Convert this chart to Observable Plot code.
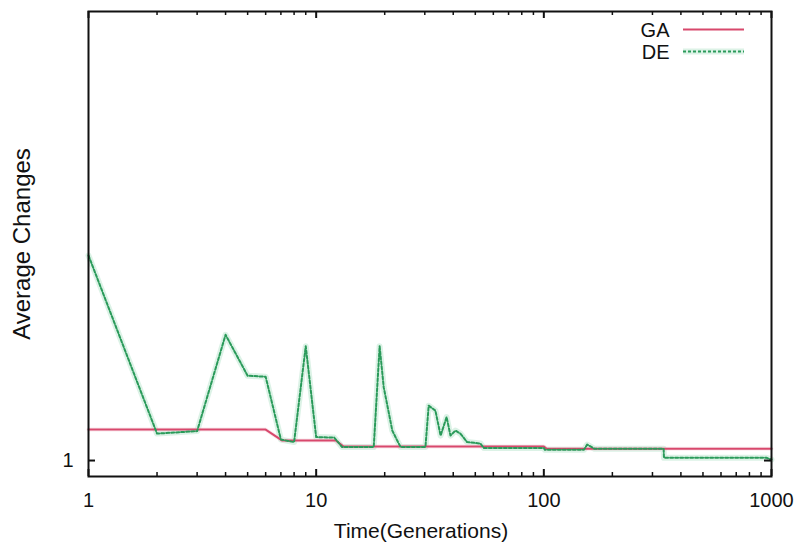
<!DOCTYPE html>
<html><head><meta charset="utf-8">
<script src="https://cdn.jsdelivr.net/npm/d3@7"></script>
<script src="https://cdn.jsdelivr.net/npm/@observablehq/plot@0.6"></script>
<style>body{margin:0;background:#fff}</style>
</head><body><div id="chart"></div>
<script>
// GA series (generation, average changes)
const gaX = [1, 6, 7.1, 12.2, 13.2, 100, 103, 1000];
const gaY = [1.062, 1.062, 1.040, 1.040, 1.028, 1.028, 1.0235, 1.0235];
// DE series
const deX = [1, 2, 3, 4, 5, 6, 7, 8, 9, 10, 12, 13, 17.9, 19, 19.8, 21.6, 22.7, 23.5, 30.2, 31.2, 33.4, 35.2, 37.4, 38.9, 40.9, 43, 46, 52.7, 54.5, 100, 101, 150, 155, 167, 336, 337, 950, 1000];
const deY = [1.411, 1.054, 1.059, 1.252, 1.170, 1.168, 1.042, 1.037, 1.229, 1.047, 1.046, 1.027, 1.027, 1.229, 1.147, 1.060, 1.040, 1.027, 1.027, 1.110, 1.100, 1.050, 1.087, 1.050, 1.060, 1.054, 1.037, 1.034, 1.025, 1.025, 1.0215, 1.0215, 1.032, 1.0235, 1.0235, 1.0055, 1.0055, 1.002];
// ticks
const xMajor = [1, 10, 100, 1000];
const xMinor = [2,3,4,5,6,7,8,9,20,30,40,50,60,70,80,90,200,300,400,500,600,700,800,900];
const yTicks = [1];
const seriesNames = ["GA", "DE"];
const xTitle = "Time(Generations)";
const yTitle = "Average Changes";

const ga = gaX.map((x, i) => ({x, y: gaY[i]}));
const de = deX.map((x, i) => ({x, y: deY[i]}));

const W = 800, H = 544, mL = 88, mR = 29, mT = 11, mB = 68;
const pw = W - mL - mR, ph = H - mT - mB;
const midY = (mT + H - mB) / 2;
const RED = "#d8486c", GREEN = "#2a9a5a";

const chart = Plot.plot({
  width: W, height: H,
  marginLeft: mL, marginRight: mR, marginTop: mT, marginBottom: mB,
  style: {fontFamily: "'Liberation Sans', Arial, Helvetica, sans-serif", fontSize: "20px", background: "#fff", color: "#111"},
  x: {type: "log", domain: [1, 1000], axis: null},
  y: {domain: [0.968, 1.9], axis: null},
  marks: [
    // halos
    Plot.line(de, {x: "x", y: "y", stroke: "#c4e9d6", strokeWidth: 6, strokeOpacity: 0.6}),
    Plot.line(ga, {x: "x", y: "y", stroke: "#f3c9d4", strokeWidth: 4, strokeOpacity: 0.4}),
    Plot.line(ga, {x: "x", y: "y", stroke: RED, strokeWidth: 2}),
    Plot.line(de, {x: "x", y: "y", stroke: GREEN, strokeWidth: 2, strokeDasharray: "3,2"}),
    Plot.frame({stroke: "#111", strokeWidth: 2}),
    // x ticks (bottom and mirrored top)
    Plot.tickX(xMajor, {x: d => d, insetTop: ph - 7, stroke: "#111", strokeWidth: 2}),
    Plot.tickX(xMajor, {x: d => d, insetBottom: ph - 7, stroke: "#111", strokeWidth: 2}),
    Plot.tickX(xMinor, {x: d => d, insetTop: ph - 4, stroke: "#111", strokeWidth: 1.5}),
    Plot.tickX(xMinor, {x: d => d, insetBottom: ph - 4, stroke: "#111", strokeWidth: 1.5}),
    // y ticks
    Plot.tickY(yTicks, {y: d => d, insetRight: pw - 7, stroke: "#111", strokeWidth: 2}),
    Plot.tickY(yTicks, {y: d => d, insetLeft: pw - 7, stroke: "#111", strokeWidth: 2}),
    // tick labels
    Plot.text(xMajor, {x: d => d, text: d => String(d), frameAnchor: "bottom", lineAnchor: "middle", dy: 24, fontSize: 20}),
    Plot.text(yTicks, {y: d => d, text: d => String(d), frameAnchor: "left", textAnchor: "end", lineAnchor: "middle", dx: -15, fontSize: 20}),
    // axis titles
    Plot.text([xTitle], {text: d => d, frameAnchor: "bottom", textAnchor: "middle", lineAnchor: "bottom", dy: 61, dx: -9, fontSize: 21}),
    Plot.text([yTitle], {text: d => d, frameAnchor: "left", textAnchor: "middle", lineAnchor: "middle", dx: -66, rotate: -90, fontSize: 24}),
    // legend
    Plot.text([seriesNames[0]], {text: d => d, frameAnchor: "top-right", textAnchor: "end", lineAnchor: "middle", dx: -102, dy: 19, fontSize: 20}),
    Plot.text([seriesNames[1]], {text: d => d, frameAnchor: "top-right", textAnchor: "end", lineAnchor: "middle", dx: -102, dy: 41, fontSize: 20}),
    Plot.ruleY([seriesNames[0]], {y: null, insetLeft: 595, insetRight: 27, dy: 29 - midY, stroke: RED, strokeWidth: 2}),
    Plot.ruleY([seriesNames[1]], {y: null, insetLeft: 595, insetRight: 27, dy: 51 - midY, stroke: "#c4e9d6", strokeWidth: 6, strokeOpacity: 0.6}),
    Plot.ruleY([seriesNames[1]], {y: null, insetLeft: 595, insetRight: 27, dy: 51 - midY, stroke: GREEN, strokeWidth: 2, strokeDasharray: "3,2"})
  ]
});
document.getElementById("chart").appendChild(chart);
</script>
</body></html>
